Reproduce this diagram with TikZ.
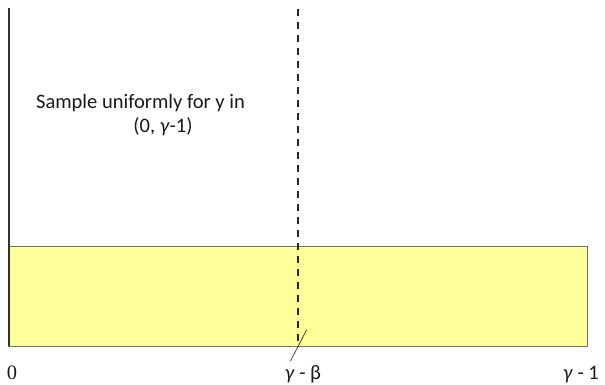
\documentclass[tikz,border=0pt]{standalone}
\usepackage{fontspec}
\setmainfont{Carlito}
\newfontfamily\serifnum{Liberation Serif}
\definecolor{fillyellow}{RGB}{255,255,153}
\definecolor{rimgray}{RGB}{110,110,110}
\definecolor{axisgray}{RGB}{50,50,50}
\begin{document}
\begin{tikzpicture}[x=1pt,y=-1pt,
  axisline/.style={draw=axisgray,line width=2pt},
  bandbox/.style={draw=rimgray,fill=fillyellow,line width=1pt},
  dashline/.style={draw=black!85,line width=1.8pt,dash pattern=on 7pt off 6pt},
  tickline/.style={draw=black!80,line width=0.7pt},
  lab/.style={inner sep=0pt,font=\fontsize{20.5}{24}\selectfont,text=black!90}]
\useasboundingbox (0,0) rectangle (605,385);
\coordinate (band-nw) at (8.5,246);
\coordinate (band-se) at (587,346);
\path[bandbox] (band-nw) rectangle (band-se);
\coordinate (axtop) at (8.5,8);
\coordinate (axbot) at (8.5,346);
\path[axisline] (axtop) -- (axbot);
\coordinate (dtop) at (298,9);
\coordinate (dbot) at (298,342);
\path[dashline] (dtop) -- (dbot);
\coordinate (tka) at (306.5,330);
\coordinate (tkb) at (290.5,361);
\path[tickline] (tka) -- (tkb);
\node[lab,anchor=base] (zero) at (12,379) {\serifnum 0};
\node[lab,anchor=base] (gb) at (303,379) {\textit{γ} - β};
\node[lab,anchor=base] (g1) at (581,379) {\textit{γ} - 1};
\node[lab,anchor=base] (t1) at (140.5,109) {Sample uniformly for y in};
\node[lab,anchor=base] (t2) at (163,133) {(0, \textit{γ}-1)};
\end{tikzpicture}
\end{document}
